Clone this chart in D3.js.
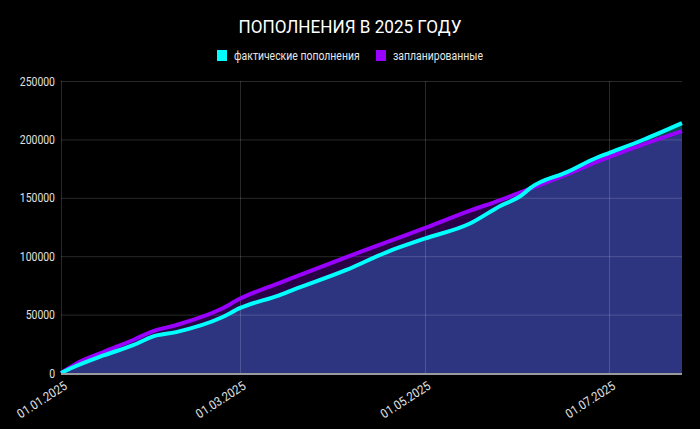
<!DOCTYPE html>
<html><head><meta charset="utf-8">
<script src="https://cdn.jsdelivr.net/npm/d3@7"></script>
<style>
html,body{margin:0;padding:0;background:#000;}
svg{display:block;font-family:Roboto,"Noto Sans",sans-serif;}
</style></head>
<body><svg id="c" width="700" height="429"></svg>
<script>
const title = "ПОПОЛНЕНИЯ В 2025 ГОДУ";
const seriesNames = ["фактические пополнения", "запланированные"];
const dates = ["2025-01-01","2025-01-06","2025-01-15","2025-01-25","2025-01-31","2025-02-08","2025-02-23","2025-03-01","2025-03-14","2025-03-19","2025-04-05","2025-04-19","2025-05-01","2025-05-16","2025-05-26","2025-06-02","2025-06-05","2025-06-17","2025-06-27","2025-07-01","2025-07-12","2025-07-25"];
const actual  = [0,6000,15000,24000,31000,35000,47500,55500,66500,71500,88000,104000,115000,128000,143000,152000,158500,172000,184500,188500,199500,214000];
const planned = [0,8000,18000,28500,35500,41000,55000,63500,77000,82000,99000,112500,124000,139000,148000,155000,158000,170000,181000,185000,195500,207000];
const yTicks = [0,50000,100000,150000,200000,250000];
const xTicks = ["2025-01-01","2025-03-01","2025-05-01","2025-07-01"];
const xTickLabels = ["01.01.2025","01.03.2025","01.05.2025","01.07.2025"];

const svg = d3.select("#c");
const W = 700, H = 429;
const m = {l:61, r:18, t:81, b:56};
const parse = d3.utcParse("%Y-%m-%d");
const data = dates.map((d,i)=>({date:parse(d), a:actual[i], p:planned[i]}));
const x = d3.scaleUtc().domain([parse(dates[0]), parse(dates[dates.length-1])]).range([m.l, W-m.r]);
const y = d3.scaleLinear().domain([0,250000]).range([H-m.b, m.t]);

svg.append("rect").attr("width",W).attr("height",H).attr("fill","#000");

function condense(sel, f){ sel.each(function(){ const L=this.getComputedTextLength(); d3.select(this).attr("textLength",L*f).attr("lengthAdjust","spacingAndGlyphs"); }); }

// title
const t = svg.append("text").attr("x",W/2).attr("y",33).attr("text-anchor","middle")
  .attr("fill","#fff").attr("font-size",19).text(title);
condense(t,0.9);

// legend
const leg = [{c:"#00ffff", x:217, tx:234, name:seriesNames[0]},{c:"#9900ff", x:376, tx:393, name:seriesNames[1]}];
leg.forEach(l=>{
  svg.append("rect").attr("x",l.x).attr("y",50).attr("width",10).attr("height",11).attr("fill",l.c);
  const tt = svg.append("text").attr("x",l.tx).attr("y",59.5).attr("fill","#e6e6e6").attr("font-size",12).text(l.name);
  condense(tt,0.87);
});

const curve = d3.curveMonotoneX;
const areaP = d3.area().x(d=>x(d.date)).y0(y(0)).y1(d=>y(d.p)).curve(curve);
const areaA = d3.area().x(d=>x(d.date)).y0(y(0)).y1(d=>y(d.a)).curve(curve);
svg.append("path").datum(data).attr("d",areaP).attr("fill","#2a0046");
svg.append("path").datum(data).attr("d",areaA).attr("fill","#004f50");
svg.append("clipPath").attr("id","clipA").append("path").datum(data).attr("d",areaA);
svg.append("path").datum(data).attr("d",areaP).attr("clip-path","url(#clipA)").attr("fill","#2e3580");

// grid
const g = svg.append("g");
g.selectAll("line.h").data(yTicks).join("line")
  .attr("x1",m.l).attr("x2",W-m.r).attr("y1",d=>y(d)+0.5).attr("y2",d=>y(d)+0.5)
  .attr("stroke","rgba(255,255,255,0.16)").attr("stroke-width",1);
g.selectAll("line.v").data(xTicks).join("line")
  .attr("x1",d=>Math.round(x(parse(d)))+0.5).attr("x2",d=>Math.round(x(parse(d)))+0.5)
  .attr("y1",m.t).attr("y2",H-m.b)
  .attr("stroke","rgba(255,255,255,0.16)").attr("stroke-width",1);

// lines
const lineP = d3.line().x(d=>x(d.date)).y(d=>y(d.p)).curve(curve);
const lineA = d3.line().x(d=>x(d.date)).y(d=>y(d.a)).curve(curve);
svg.append("path").datum(data).attr("d",lineP).attr("fill","none").attr("stroke","#9900ff").attr("stroke-width",4).attr("stroke-linejoin","round");
svg.append("path").datum(data).attr("d",lineA).attr("fill","none").attr("stroke","#00ffff").attr("stroke-width",4).attr("stroke-linejoin","round");

// bottom axis line
svg.append("line").attr("x1",m.l).attr("x2",W-m.r).attr("y1",y(0)+1).attr("y2",y(0)+1).attr("stroke","#9a9a9a").attr("stroke-width",2);

// y labels
const yl = svg.selectAll("text.yl").data(yTicks).join("text")
  .attr("x",55).attr("y",d=>y(d)+4.5).attr("text-anchor","end").attr("fill","#e0e0e0").attr("font-size",12).text(d=>String(d));
condense(yl,0.87);

// x labels
const xl = svg.selectAll("text.xl").data(xTicks).join("text")
  .attr("text-anchor","end").attr("fill","#e0e0e0").attr("font-size",12.5)
  .attr("transform",d=>`translate(${x(parse(d))+7},388) rotate(-33)`)
  .text((d,i)=>xTickLabels[i]);
condense(xl,0.9);
</script></body></html>
